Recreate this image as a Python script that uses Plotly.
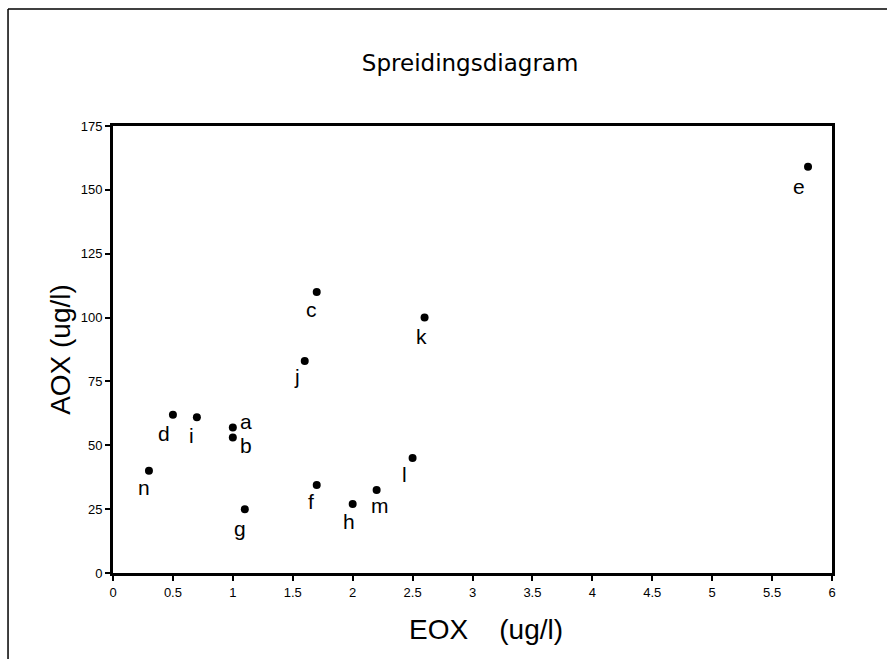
import plotly.graph_objects as go

# EOX / AOX measurements per sampling point
labels = ["a", "b", "c", "d", "e", "f", "g", "h", "i", "j", "k", "l", "m", "n"]
eox = [1.0, 1.0, 1.7, 0.5, 5.8, 1.7, 1.1, 2.0, 0.7, 1.6, 2.6, 2.5, 2.2, 0.3]
aox = [57, 53, 110, 62, 159, 34.5, 25, 27, 61, 83, 100, 45, 32.5, 40]

x_ticks = [0, 0.5, 1, 1.5, 2, 2.5, 3, 3.5, 4, 4.5, 5, 5.5, 6]
x_ticktext = ["0", "0.5", "1", "1.5", "2", "2.5", "3", "3.5", "4", "4.5", "5", "5.5", "6"]
y_ticks = [0, 25, 50, 75, 100, 125, 150, 175]

# label placement relative to each marker (pixels, +x right, +y down)
label_offset = {
    "a": (13, -6), "b": (13, 8), "c": (-5, 17), "d": (-9, 19), "e": (-9, 20),
    "f": (-6, 17), "g": (-5, 19), "h": (-4, 17), "i": (-5, 18), "j": (-8, 16),
    "k": (-3, 19), "l": (-8, 16), "m": (3, 16), "n": (-5, 17),
}

FONT = "Liberation Sans, Arial, sans-serif"

fig = go.Figure()
fig.add_trace(go.Scatter(
    x=eox, y=aox, mode="markers",
    marker=dict(color="black", size=8),
    hoverinfo="text", text=labels, showlegend=False,
))

for lab, xv, yv in zip(labels, eox, aox):
    dx, dy = label_offset[lab]
    fig.add_annotation(
        x=xv, y=yv, text=lab, showarrow=False,
        xshift=dx, yshift=-dy,
        font=dict(family=FONT, size=21, color="black"),
    )

# x-axis title, set slightly right of the plot centre
fig.add_annotation(
    xref="paper", yref="paper", x=0.519, y=-0.127,
    xanchor="center", yanchor="middle", showarrow=False,
    text="EOX &nbsp;&nbsp; (ug/l)",
    font=dict(family=FONT, size=28, color="black"),
)

axis_common = dict(
    showline=True, linecolor="black", linewidth=3, mirror=True,
    ticks="outside", ticklen=5, tickwidth=1.5, tickcolor="black",
    showgrid=False, zeroline=False,
    tickfont=dict(family=FONT, size=13, color="black"),
)

fig.update_xaxes(range=[0, 6], tickvals=x_ticks, ticktext=x_ticktext, **axis_common)
fig.update_yaxes(
    range=[0, 175], tickvals=y_ticks,
    title=dict(text="AOX (ug/l)", standoff=2,
               font=dict(family=FONT, size=28, color="black")),
    **axis_common,
)

# partial page frame along the top and left edges
fig.add_shape(type="line", xref="paper", yref="paper",
              x0=-0.146, x1=1.1, y0=1.2617, y1=1.2617,
              line=dict(color="black", width=1.5))
fig.add_shape(type="line", xref="paper", yref="paper",
              x0=-0.146, x1=-0.146, y0=1.2617, y1=-0.2,
              line=dict(color="black", width=1.5))

fig.update_layout(
    width=887, height=659,
    margin=dict(l=113, r=55, t=126, b=86),
    paper_bgcolor="white", plot_bgcolor="white",
    title=dict(text="Spreidingsdiagram", x=0.53, xanchor="center", y=0.905, yanchor="middle",
               font=dict(family="DejaVu Sans, sans-serif", size=23, color="black")),
)

fig.write_html("out.html")
